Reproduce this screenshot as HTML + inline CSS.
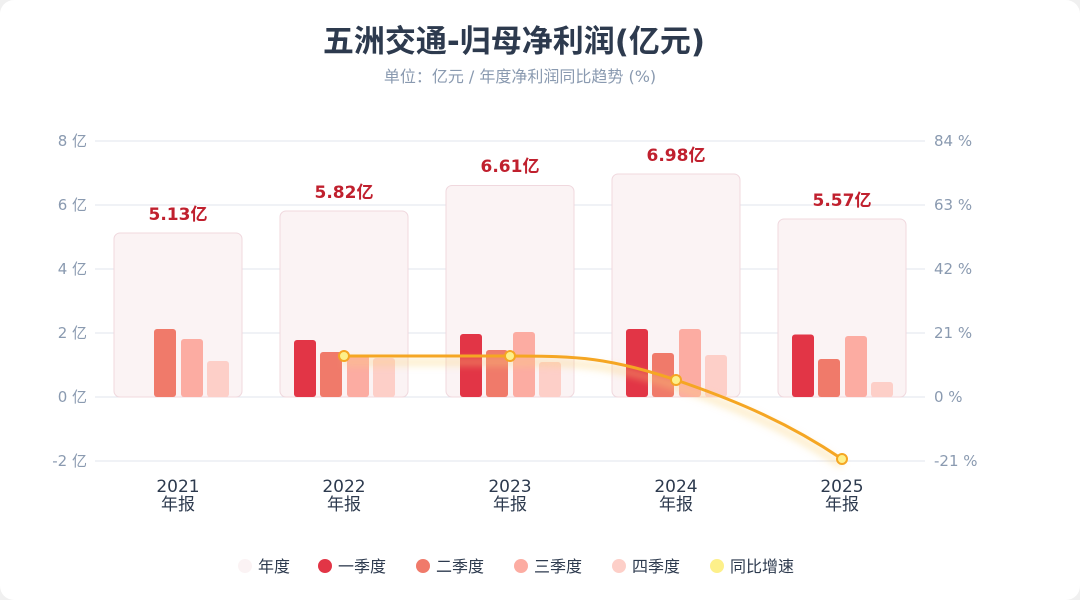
<!DOCTYPE html>
<html><head><meta charset="utf-8"><style>
body{margin:0;background:#f0f0f0;}
.c{position:absolute;left:0;top:0;width:1080px;height:600px;background:#fff;border-radius:14px;overflow:hidden;}
</style></head><body><div class="c">
<svg width="1080" height="600" xmlns="http://www.w3.org/2000/svg" font-family="DejaVu Sans, Noto Sans CJK SC, sans-serif">
<defs><filter id="g" x="-20%" y="-50%" width="140%" height="200%"><feGaussianBlur stdDeviation="4"/></filter></defs>
<text x="514" y="52" text-anchor="middle" font-size="31" font-weight="600" fill="#2d3a4e">五洲交通-归母净利润(亿元)</text>
<text x="520" y="82" text-anchor="middle" font-size="16" fill="#8a9ab0">单位：亿元 / 年度净利润同比趋势 (%)</text>
<g stroke="#e2e4ec" stroke-width="1">
<line x1="95" y1="141" x2="925" y2="141"/><line x1="95" y1="205" x2="925" y2="205"/><line x1="95" y1="269" x2="925" y2="269"/><line x1="95" y1="333" x2="925" y2="333"/><line x1="95" y1="397" x2="925" y2="397"/><line x1="95" y1="461" x2="925" y2="461"/></g>
<g font-size="15" fill="#8a9ab0" text-anchor="end">
<text x="87" y="146">8 亿</text><text x="87" y="210">6 亿</text><text x="87" y="274">4 亿</text><text x="87" y="338">2 亿</text><text x="87" y="402">0 亿</text><text x="87" y="466">-2 亿</text></g>
<g font-size="15" fill="#8a9ab0">
<text x="934" y="146">84 %</text><text x="934" y="210">63 %</text><text x="934" y="274">42 %</text><text x="934" y="338">21 %</text><text x="934" y="402">0 %</text><text x="934" y="466">-21 %</text></g>
<g fill="#fbf3f4" stroke="#f0d8de" stroke-width="1">
<rect x="114" y="233" width="128" height="164" rx="6"/>
<rect x="280" y="211" width="128" height="186" rx="6"/>
<rect x="446" y="185.5" width="128" height="211.5" rx="6"/>
<rect x="612" y="174" width="128" height="223" rx="6"/>
<rect x="778" y="219" width="128" height="178" rx="6"/></g>
<g font-size="17" font-weight="bold" fill="#c0202e" text-anchor="middle">
<text x="178" y="220">5.13亿</text><text x="344" y="198">5.82亿</text><text x="510" y="172">6.61亿</text><text x="676" y="161">6.98亿</text><text x="842" y="206">5.57亿</text></g>
<g>
<rect x="154" y="329" width="22" height="68" rx="3" fill="#f07a6a"/><rect x="181" y="339" width="22" height="58" rx="3" fill="#fcaca2"/><rect x="207" y="361" width="22" height="36" rx="3" fill="#fdcfc8"/>
<rect x="294" y="340" width="22" height="57" rx="3" fill="#e23546"/><rect x="320" y="352" width="22" height="45" rx="3" fill="#f07a6a"/><rect x="347" y="355" width="22" height="42" rx="3" fill="#fcaca2"/><rect x="373" y="358" width="22" height="39" rx="3" fill="#fdcfc8"/>
<rect x="460" y="334" width="22" height="63" rx="3" fill="#e23546"/><rect x="486" y="350" width="22" height="47" rx="3" fill="#f07a6a"/><rect x="513" y="332" width="22" height="65" rx="3" fill="#fcaca2"/><rect x="539" y="362" width="22" height="35" rx="3" fill="#fdcfc8"/>
<rect x="626" y="329" width="22" height="68" rx="3" fill="#e23546"/><rect x="652" y="353" width="22" height="44" rx="3" fill="#f07a6a"/><rect x="679" y="329" width="22" height="68" rx="3" fill="#fcaca2"/><rect x="705" y="355" width="22" height="42" rx="3" fill="#fdcfc8"/>
<rect x="792" y="334.5" width="22" height="62.5" rx="3" fill="#e23546"/><rect x="818" y="359" width="22" height="38" rx="3" fill="#f07a6a"/><rect x="845" y="336" width="22" height="61" rx="3" fill="#fcaca2"/><rect x="871" y="382" width="22" height="15" rx="3" fill="#fdcfc8"/></g>
<path d="M344,356 C400,356 454,356 510,356 C580,356 610,358 676,380 C740,402 790,424 842,459" fill="none" stroke="#fbd27a" stroke-width="6" opacity="0.5" filter="url(#g)" transform="translate(0,6)"/>
<path d="M344,356 C400,356 454,356 510,356 C580,356 610,358 676,380 C740,402 790,424 842,459" fill="none" stroke="#f5a623" stroke-width="3"/>
<g fill="#fdf08a" stroke="#f5a623" stroke-width="2">
<circle cx="344" cy="356" r="5"/><circle cx="510" cy="356" r="5"/><circle cx="676" cy="380" r="5"/><circle cx="842" cy="459" r="5"/></g>
<g font-size="17" fill="#2d3a4e" text-anchor="middle">
<text x="178" y="492">2021</text><text x="178" y="510">年报</text>
<text x="344" y="492">2022</text><text x="344" y="510">年报</text>
<text x="510" y="492">2023</text><text x="510" y="510">年报</text>
<text x="676" y="492">2024</text><text x="676" y="510">年报</text>
<text x="842" y="492">2025</text><text x="842" y="510">年报</text></g>
<g font-size="16" fill="#2d3a4e">
<circle cx="245" cy="566" r="7" fill="#fbf3f4"/><text x="258" y="572">年度</text>
<circle cx="325" cy="566" r="7" fill="#e23546"/><text x="338" y="572">一季度</text>
<circle cx="423" cy="566" r="7" fill="#f07a6a"/><text x="436" y="572">二季度</text>
<circle cx="521" cy="566" r="7" fill="#fcaca2"/><text x="534" y="572">三季度</text>
<circle cx="619" cy="566" r="7" fill="#fdcfc8"/><text x="632" y="572">四季度</text>
<circle cx="717" cy="566" r="7" fill="#fdf08a"/><text x="730" y="572">同比增速</text></g>
</svg></div></body></html>
